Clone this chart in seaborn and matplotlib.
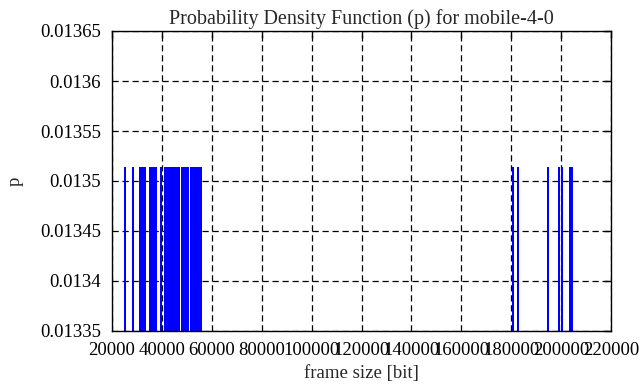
import matplotlib
matplotlib.use("Agg")
import matplotlib.pyplot as plt
import numpy as np
import seaborn as sb
import pandas as pd

# frame sizes [bit] with one occurrence each
frame_sizes = [
    25210, 28540,
    31100, 31330, 31550, 31780, 32000, 32230, 32450, 32680, 32900, 33130, 33350,
    35100, 35310, 35520, 35730, 35940, 36150, 36360, 36570, 36780, 36990,
    37200, 37420, 37640,
    39640,
    41240, 41630, 42020, 42420, 42810, 43200, 43600, 43990,
    44380, 44780, 45170, 45560, 45960, 46350, 46730,
    47940, 48360, 48780, 49200, 49620, 50040, 50460,
    51560, 51970, 52380, 52800, 53210, 53620, 54040, 54450,
    54860, 55280, 55690,
    180600, 182720, 194750, 199160, 200360, 203560, 204370,
]
p_value = 1 / 74
x_ticks = list(range(20000, 220001, 20000))
y_ticks = [0.01335, 0.0134, 0.01345, 0.0135, 0.01355, 0.0136, 0.01365]

t = pd.DataFrame({"size": frame_sizes, "p": [p_value] * len(frame_sizes)})

sb.set_style("white")
plt.rcParams["font.family"] = ["Liberation Serif", "DejaVu Serif"]

fig = plt.figure(figsize=(6.41, 3.87), dpi=100)
ax = fig.add_axes([112 / 641, 56 / 387, 499 / 641, 300 / 387])

ax.vlines(t["size"], 0, t["p"], color="#0000ff", linewidth=1.44, antialiased=False)

ax.set_xlim(20000, 220000)
ax.set_ylim(0.01335, 0.01365)
ax.set_xticks(x_ticks)
ax.set_xticklabels([str(v) for v in x_ticks])
ax.set_yticks(y_ticks)
ax.set_yticklabels(["0.01335", "0.0134", "0.01345", "0.0135", "0.01355", "0.0136", "0.01365"])

ax.grid(True, color="black", linestyle=(0, (5, 3)), linewidth=0.9)
ax.set_axisbelow(True)
for s in ax.spines.values():
    s.set_color("black")
    s.set_linewidth(1.0)
ax.tick_params(direction="in", length=5, width=1.0, colors="black",
               top=True, right=True, labelsize=13.5, pad=8)

ax.set_title("Probability Density Function (p) for mobile-4-0", fontsize=14.5, pad=5)
ax.set_xlabel("frame size [bit]", fontsize=13.5, labelpad=4)
ax.set_ylabel("p", fontsize=13.5, labelpad=12)

fig.savefig("out.png", dpi=100)
